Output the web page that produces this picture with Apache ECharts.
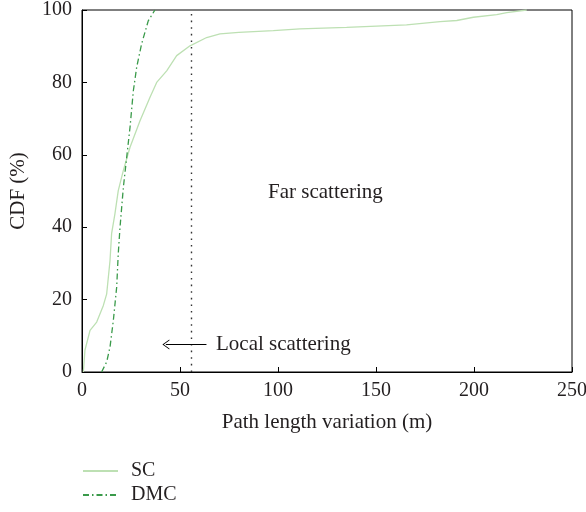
<!DOCTYPE html>
<html><head><meta charset="utf-8">
<script src="https://cdn.jsdelivr.net/npm/echarts@6/dist/echarts.min.js"></script>
<style>html,body{margin:0;padding:0;background:#fff}#c{width:586px;height:512px}</style>
</head><body><div id="c"></div>
<script>
const scX = [0.7,1.5,4.1,7.5,10.9,12.6,14.3,15.1,16.8,18.5,21.1,24.5,29.6,34.7,38.1,43.2,48.3,55.1,63.6,70.4,80,97.6,111.2,135,165.6,182.7,191.2,199.7,211.6,216.7,226.9];
const scY = [0,6,11.5,13.8,18.4,21.6,30.8,38.2,43.7,50.1,55.7,62.1,69.4,75.9,80.0,83.2,87.4,90.1,92.4,93.4,93.8,94.3,94.8,95.2,95.9,96.8,97.1,98.0,98.7,99.3,100];
const dmcX = [10.0,12.6,14.3,16.0,17.7,18.5,19.4,21.1,22.8,24.5,26.2,27.9,30.4,33.8,37.2];
const dmcY = [0,2.8,6.9,14.3,23.5,32.7,40.0,51.0,59.3,67.6,77.7,84.2,90.6,97.0,100];
const xTicks = [0,50,100,150,200,250];
const yTicks = [0,20,40,60,80,100];
const boundaryX = 55.6;
const seriesNames = ['SC','DMC'];

const font = 'Liberation Serif';
const txt = '#231f20';
const chart = echarts.init(document.getElementById('c'));
chart.setOption({
  animation:false,
  textStyle:{fontFamily:font,color:txt},
  grid:{left:82,right:14,top:10,bottom:140,containLabel:false,outerBoundsMode:'none',
    show:true,borderColor:'#000',borderWidth:1},
  xAxis:{type:'value',min:xTicks[0],max:xTicks[xTicks.length-1],interval:xTicks[1]-xTicks[0],
    name:'Path length variation (m)',nameLocation:'middle',nameGap:40,
    nameTextStyle:{fontFamily:font,fontSize:21,color:txt},
    axisLine:{lineStyle:{color:'#000',width:1}},
    axisTick:{inside:true,length:5,lineStyle:{color:'#000'}},
    axisLabel:{fontFamily:font,fontSize:20,color:txt,margin:9},
    splitLine:{show:false}},
  yAxis:{type:'value',min:yTicks[0],max:yTicks[yTicks.length-1],interval:yTicks[1]-yTicks[0],
    name:'CDF (%)',nameLocation:'middle',nameGap:53,nameRotate:90,
    nameTextStyle:{fontFamily:font,fontSize:21,color:txt},
    axisLine:{show:true,lineStyle:{color:'#000',width:1}},
    axisTick:{show:true,inside:true,length:5,lineStyle:{color:'#000'}},
    axisLabel:{fontFamily:font,fontSize:20,color:txt,margin:10},
    splitLine:{show:false}},
  legend:{orient:'vertical',left:82,top:461,padding:0,itemWidth:35,itemHeight:10,itemGap:4,
    itemStyle:{opacity:0},
    textStyle:{fontFamily:font,fontSize:20,color:txt,padding:[0,0,0,8]},
    data:seriesNames},
  series:[
    {name:seriesNames[0],type:'line',symbol:'none',
     lineStyle:{color:'#bde0b3',width:1.3},itemStyle:{color:'#bde0b3'},
     data:scX.map((x,i)=>[x,scY[i]]),
     markLine:{silent:true,symbol:'none',label:{show:false},
       lineStyle:{color:'#333',type:[1.6,5],width:1.4},
       data:[{xAxis:boundaryX}]}},
    {name:seriesNames[1],type:'line',symbol:'none',
     lineStyle:{color:'#3a9a4a',width:1.3,type:[6,3,1.5,3]},itemStyle:{color:'#3a9a4a'},
     data:dmcX.map((x,i)=>[x,dmcY[i]]),
     markLine:{silent:true,label:{show:false},
       symbol:['none','path://M0,10 L5,0 L10,10 L9,10 L5,2 L1,10 Z'],symbolSize:[10,7],
       lineStyle:{color:'#000',type:'solid',width:1},
       data:[[{coord:[63.5,7.6]},{coord:[42.8,7.6]}]]}}
  ],
  graphic:[
    {type:'text',left:268,top:182,style:{text:'Far scattering',fontFamily:font,fontSize:21,fill:txt}},
    {type:'text',left:216,top:334,style:{text:'Local scattering',fontFamily:font,fontSize:21,fill:txt}}
  ]
});
</script></body></html>
